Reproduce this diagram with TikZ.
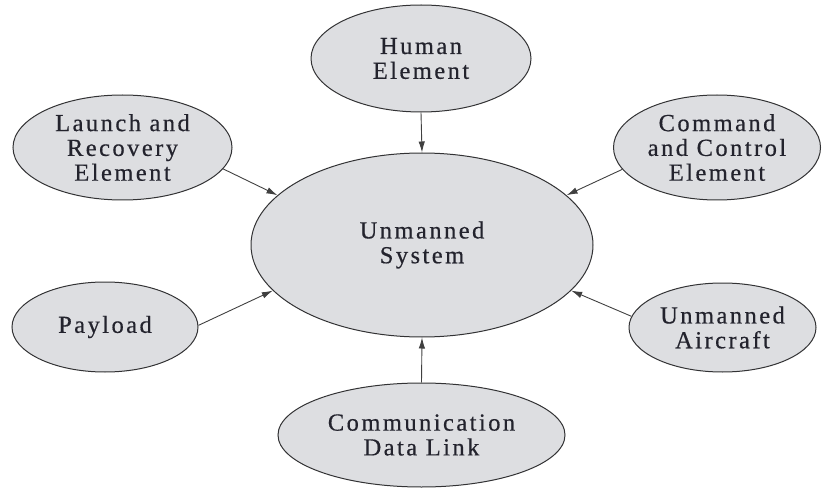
\documentclass[tikz,border=0pt]{standalone}
\usepackage{fontspec}
\setmainfont{Liberation Serif}[LetterSpace=10,FakeBold=0.5]
\usetikzlibrary{shapes.geometric,arrows.meta}
\definecolor{ellfill}{RGB}{221,222,225}
\definecolor{ellline}{RGB}{50,50,52}
\definecolor{txt}{RGB}{35,35,45}
\tikzset{
  elem/.style={ellipse, draw=ellline, line width=1pt, fill=ellfill, inner sep=0pt,
    align=center, text=txt, font=\fontsize{24.5}{24.8}\selectfont},
  link/.style={draw=black!75, line width=0.9pt, -{Latex[length=11pt,width=6.5pt]}}
}
\begin{document}
\begin{tikzpicture}[x=1pt,y=1pt]
\useasboundingbox (0,0) rectangle (822,488);
\node[elem, minimum width=342, minimum height=184] (C) at (422,243) {Unmanned\\System};
\node[elem, minimum width=220, minimum height=107] (H) at (421,429.5) {Human\\Element};
\node[elem, minimum width=219, minimum height=105] (L) at (122.5,340.5) {Launch and\\Recovery\\Element};
\node[elem, minimum width=207, minimum height=105] (K) at (717,340.5) {Command\\and Control\\Element};
\node[elem, minimum width=186, minimum height=90] (P) at (105,161) {Payload};
\node[elem, minimum width=187, minimum height=89] (U) at (722.5,160.5) {Unmanned\\Aircraft};
\node[elem, minimum width=287, minimum height=104] (D) at (421.5,53) {Communication\\Data Link};
\draw[link] (H.south) -- (C.north);
\draw[link] (D.north) -- (C.south);
\draw[link] (L.-12.4) -- (C.161.3);
\draw[link] (K.193.2) -- (C.19.1);
\draw[link] (P.1.8) -- (C.197.5);
\draw[link] (U.173.5) -- (C.-17.5);
\end{tikzpicture}
\end{document}
